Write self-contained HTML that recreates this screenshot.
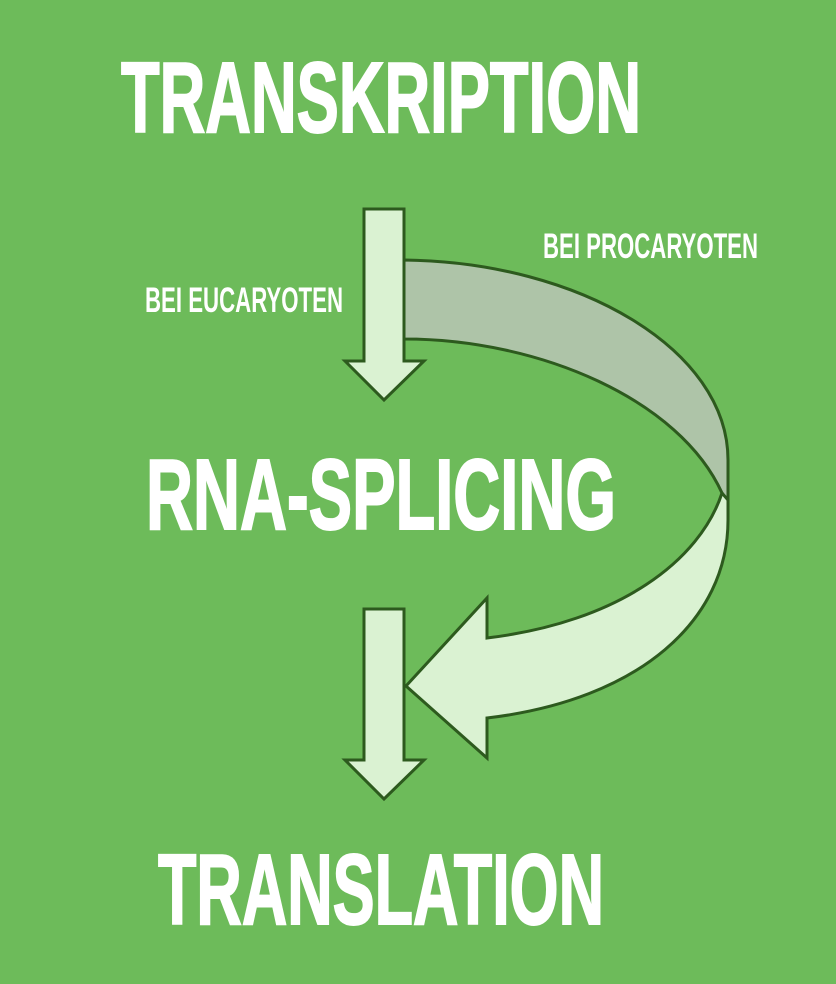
<!DOCTYPE html>
<html><head><meta charset="utf-8"><style>html,body{margin:0;padding:0;background:#6dbb5a}svg{display:block}</style></head>
<body>
<svg width="836" height="984" viewBox="0 0 836 984" xmlns="http://www.w3.org/2000/svg">
<rect width="836" height="984" fill="#6dbb5a"/>
<g font-family="Liberation Sans, sans-serif" font-weight="bold" fill="#fff">
<g stroke="#fff" stroke-width="2">
<text x="121" y="132" font-size="100" textLength="520" lengthAdjust="spacingAndGlyphs">TRANSKRIPTION</text>
<text x="146" y="529" font-size="100" textLength="470" lengthAdjust="spacingAndGlyphs">RNA-SPLICING</text>
<text x="158" y="924" font-size="100" textLength="446" lengthAdjust="spacingAndGlyphs">TRANSLATION</text>
</g>
<text x="145" y="312" font-size="35" textLength="198" lengthAdjust="spacingAndGlyphs">BEI EUCARYOTEN</text>
<text x="543" y="258" font-size="35" textLength="215" lengthAdjust="spacingAndGlyphs">BEI PROCARYOTEN</text>
</g>
<g stroke="#2d5a1e" stroke-width="3" stroke-linejoin="miter">
<path d="M364,209 L404,209 L404,361 L424,361 L384,400 L345,361 L364,361 Z" fill="#daf2d2"/>
<path d="M364,609 L404,609 L404,760 L424,760 L384,799 L345,760 L364,760 Z" fill="#daf2d2"/>
<path d="M404,260 C580,262 728,350 728,460 L728,515 L722,493 C680,400 540,339 404,339 Z" fill="#aec4a8"/>
<path d="M722,493 C700,560 620,622 487,638 L487,598 L406,686 L487,758 L487,718 C640,700 728,620 728,520 L728,500 Z" fill="#daf2d2"/>
</g>
</svg>
</body></html>
